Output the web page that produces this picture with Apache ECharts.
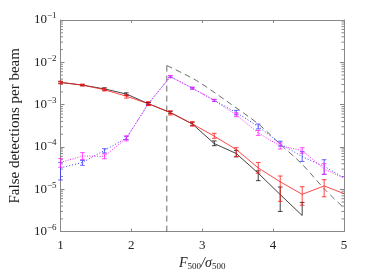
<!DOCTYPE html>
<html><head><meta charset="utf-8">
<script src="https://cdn.jsdelivr.net/npm/echarts@6/dist/echarts.min.js"></script>
<style>html,body{margin:0;padding:0;background:#fff}#c{width:390px;height:276px}</style>
</head><body><div id="c"></div>
<script>
// x positions of the bins
const xs = [1, 1.31, 1.62, 1.93, 2.24, 2.55, 2.86, 3.17, 3.48, 3.79, 4.1, 4.41, 4.72, 5.0];

// black (solid); null lower bound = no lower bar drawn (log scale)
const blackY  = [3.35e-3, 2.9e-3, 2.35e-3, 1.78e-3, 1.05e-3, 6.5e-4, 3.5e-4, 1.2e-4, 7.0e-5, 2.4e-5, 7.5e-6, 2.4e-6];
const blackHi = [3.5e-3, 3.0e-3, 2.5e-3, 1.9e-3, 1.12e-3, 6.9e-4, 3.75e-4, 1.39e-4, 8.3e-5, 2.72e-5, 1.13e-5, 4.9e-6];
const blackLo = [3.2e-3, 2.8e-3, 2.2e-3, 1.65e-3, 9.8e-4, 6.1e-4, 3.25e-4, 1.07e-4, 5.85e-5, 1.6e-5, 3.0e-6, null];

// red (solid)
const redY  = [3.35e-3, 2.9e-3, 2.25e-3, 1.58e-3, 1.05e-3, 6.5e-4, 3.5e-4, 1.8e-4, 8.7e-5, 3.2e-5, 1.5e-5, 7.6e-6, 1.2e-5, 7.9e-6];
const redHi = [3.6e-3, 3.05e-3, 2.45e-3, 1.72e-3, 1.18e-3, 7.2e-4, 4.0e-4, 2.1e-4, 9.6e-5, 4.3e-5, 2.06e-5, 1.15e-5, 1.69e-5, null];
const redLo = [3.1e-3, 2.75e-3, 2.1e-3, 1.43e-3, 9.5e-4, 5.7e-4, 3.1e-4, 1.6e-4, 5.9e-5, 2.4e-5, 5.2e-6, 4.2e-6, 6.65e-6, null];

// magenta (dotted)
const magY  = [4.3e-5, 6.1e-5, 6.0e-5, 1.62e-4, 1.05e-3, 4.6e-3, 2.45e-3, 1.26e-3, 5.7e-4, 2.15e-4, 1.05e-4, 8.3e-5, 3.0e-5, 1.85e-5];
const magHi = [5.35e-5, 7.35e-5, 6.86e-5, 1.84e-4, 1.12e-3, 4.9e-3, 2.6e-3, 1.34e-3, 6.4e-4, 2.45e-4, 1.25e-4, 9.6e-5, 4.04e-5, null];
const magLo = [3.32e-5, 5.07e-5, 5.26e-5, 1.39e-4, 9.8e-4, 4.3e-3, 2.3e-3, 1.18e-3, 5.2e-4, 1.88e-4, 8.95e-5, 7.1e-5, 2.25e-5, null];

// blue (dotted)
const blueY  = [3.2e-5, 4.3e-5, 8.3e-5, 1.62e-4, 1.05e-3, 4.6e-3, 2.45e-3, 1.26e-3, 6.5e-4, 3.05e-4, 1.2e-4, 5.9e-5, 3.5e-5, 1.85e-5];
const blueHi = [4.32e-5, 4.8e-5, 9.1e-5, 1.75e-4, 1.1e-3, 4.8e-3, 2.55e-3, 1.32e-3, 7.31e-4, 3.48e-4, 1.37e-4, 7.75e-5, 4.99e-5, null];
const blueLo = [1.66e-5, 3.69e-5, 7.24e-5, 1.5e-4, 1.0e-3, 4.4e-3, 2.35e-3, 1.2e-3, 5.73e-4, 2.67e-4, 1.05e-4, 4.56e-5, 2.25e-5, null];

// dashed model curve
const dashX = [2.5, 2.92, 3.38, 3.8, 4.11, 4.41, 4.72, 5.0];
const dashY = [8.4e-3, 3.7e-3, 1.1e-3, 3.4e-4, 1.12e-4, 3.9e-5, 1.03e-5, 3.6e-6];

// vertical threshold line
const threshX = 2.5;
const threshY = [1e-6, 8.4e-3];

// axis
const xTicks = [1, 2, 3, 4, 5];
const yMin = 1e-6, yMax = 1e-1;
const minorY = [];
for (let e = -6; e < -1; e++) for (let k = 2; k <= 9; k++) minorY.push(k * Math.pow(10, e));

const SERIF = '"Liberation Serif","DejaVu Serif",serif';

function pairs(x, y) { const out = []; for (let i = 0; i < y.length; i++) out.push([x[i], y[i]]); return out; }

function errSeries(val, lo, hi, color, z) {
  const data = [];
  for (let i = 0; i < hi.length; i++) if (hi[i] != null) data.push([xs[i], lo[i] == null ? val[i] : lo[i], hi[i], lo[i] == null ? 0 : 1]);
  return {
    type: 'custom', data, z, silent: true, encode: { x: 0, y: [1, 2] },
    renderItem(params, api) {
      const x = api.value(0);
      const p1 = api.coord([x, api.value(1)]);
      const p2 = api.coord([x, api.value(2)]);
      const hasLo = api.value(3) === 1;
      const w = 2.3;
      const st = { stroke: color, lineWidth: 0.8 };
      const ch = [
        { type: 'line', shape: { x1: p1[0], y1: p1[1], x2: p1[0], y2: p2[1] }, style: st },
        { type: 'line', shape: { x1: p1[0] - w, y1: p2[1], x2: p1[0] + w, y2: p2[1] }, style: st }
      ];
      if (hasLo) ch.push({ type: 'line', shape: { x1: p1[0] - w, y1: p1[1], x2: p1[0] + w, y2: p1[1] }, style: st });
      return { type: 'group', children: ch };
    }
  };
}

const chart = echarts.init(document.getElementById('c'), null, { renderer: 'canvas' });
const axisGray = '#888';
chart.setOption({
  animation: false,
  grid: { left: 60, right: 46, top: 20, bottom: 39 },
  xAxis: [{
    type: 'value', min: 1, max: 5, interval: 1, position: 'bottom',
    axisLine: { lineStyle: { color: axisGray, width: 1 } },
    axisTick: { inside: true, length: 3, lineStyle: { color: axisGray } },
    splitLine: { show: false },
    axisLabel: { fontFamily: SERIF, fontSize: 13, color: '#222', margin: 7 },
    name: '{i|F}{s|500}{i|/σ}{s|500}', nameLocation: 'middle', nameGap: 24,
    nameTextStyle: { rich: {
      i: { fontFamily: SERIF, fontSize: 14, fontStyle: 'italic', color: '#222' },
      s: { fontFamily: SERIF, fontSize: 9, color: '#222', padding: [6, 0, 0, 0] }
    } }
  }, {
    type: 'value', min: 1, max: 5, interval: 1, position: 'top',
    axisLine: { lineStyle: { color: axisGray } },
    axisTick: { inside: true, length: 3, lineStyle: { color: axisGray } },
    axisLabel: { show: false }, splitLine: { show: false }
  }],
  yAxis: [{
    type: 'log', logBase: 10, min: yMin, max: yMax, position: 'left',
    axisLine: { lineStyle: { color: axisGray } },
    axisTick: { inside: true, length: 4, lineStyle: { color: axisGray } },
    splitLine: { show: false },
    axisLabel: {
      margin: 4,
      formatter: v => '{b|10}{s|−' + Math.round(-Math.log10(v)) + '}',
      rich: {
        b: { fontFamily: SERIF, fontSize: 13, color: '#222' },
        s: { fontFamily: SERIF, fontSize: 9, color: '#222', padding: [0, 0, 8, 0] }
      }
    },
    name: 'False detections per beam', nameLocation: 'middle', nameGap: 34, nameRotate: 90,
    nameTextStyle: { fontFamily: SERIF, fontSize: 15, color: '#222' }
  }, {
    type: 'log', logBase: 10, min: yMin, max: yMax, position: 'right',
    axisLine: { lineStyle: { color: axisGray } },
    axisTick: { inside: true, length: 4, lineStyle: { color: axisGray } },
    axisLabel: { show: false }, splitLine: { show: false }
  }],
  series: [
    { // minor log ticks
      type: 'custom', silent: true, z: 1, data: minorY.map(v => [1, v]), encode: { x: 0, y: 1 },
      renderItem(params, api) {
        const p = api.coord([1, api.value(1)]);
        const cs = params.coordSys;
        const st = { stroke: axisGray, lineWidth: 1 };
        return { type: 'group', children: [
          { type: 'line', shape: { x1: cs.x, y1: p[1], x2: cs.x + 2.5, y2: p[1] }, style: st },
          { type: 'line', shape: { x1: cs.x + cs.width, y1: p[1], x2: cs.x + cs.width - 2.5, y2: p[1] }, style: st }
        ] };
      }
    },
    { type: 'line', data: [[threshX, threshY[0]], [threshX, threshY[1]]], showSymbol: false, silent: true, z: 2,
      lineStyle: { color: '#444', width: 0.8, type: [6, 4] } },
    { type: 'line', data: pairs(dashX, dashY), showSymbol: false, silent: true, z: 2, smooth: 0.3,
      lineStyle: { color: '#444', width: 0.8, type: [6, 4] } },
    { type: 'line', data: pairs(xs, blueY), showSymbol: false, silent: true, z: 3,
      lineStyle: { color: '#3a3aff', width: 1, type: [1, 2] } },
    errSeries(blueY, blueLo, blueHi, '#3a3aff', 3),
    { type: 'line', data: pairs(xs, magY), showSymbol: false, silent: true, z: 4,
      lineStyle: { color: '#ff22ff', width: 1, type: [1, 1.5] } },
    errSeries(magY, magLo, magHi, '#ff22ff', 4),
    { type: 'line', data: pairs(xs, blackY), showSymbol: false, silent: true, z: 5,
      lineStyle: { color: '#111', width: 0.8 } },
    errSeries(blackY, blackLo, blackHi, '#111', 5),
    { type: 'line', data: pairs(xs, redY), showSymbol: false, silent: true, z: 6,
      lineStyle: { color: '#ff1a1a', width: 0.8 } },
    errSeries(redY, redLo, redHi, '#ff1a1a', 6)
  ]
});
</script></body></html>
